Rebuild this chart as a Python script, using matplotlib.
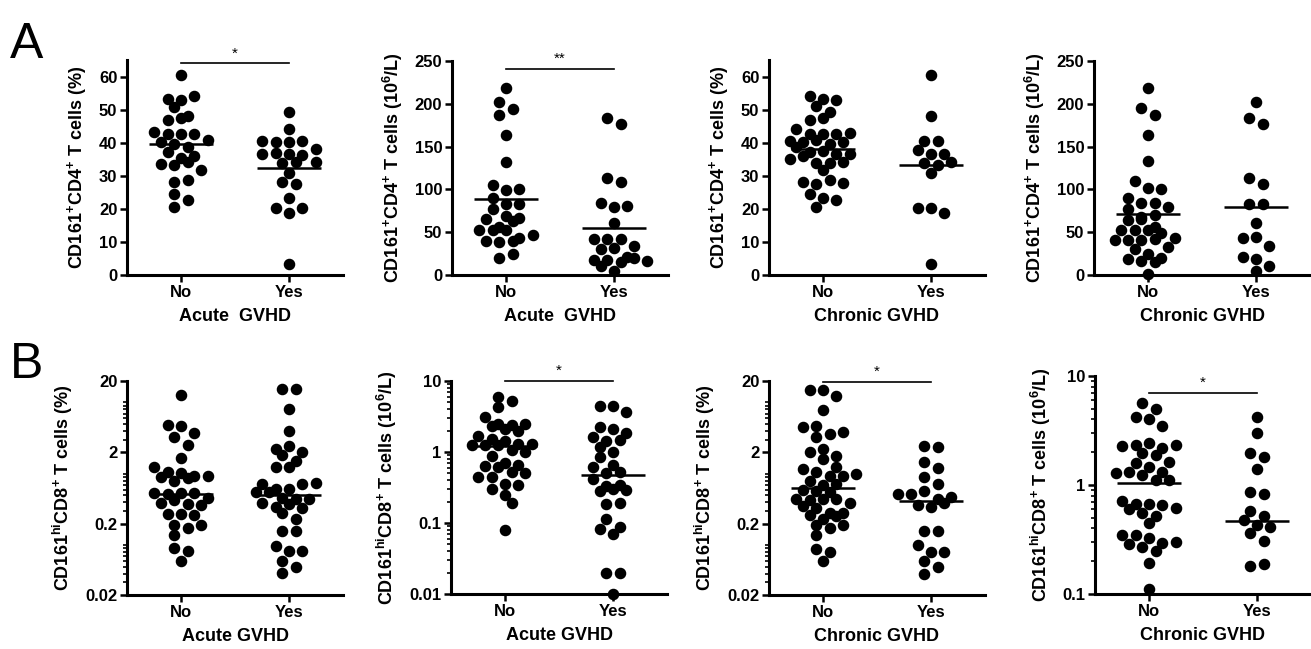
import numpy as np
import matplotlib
matplotlib.use('Agg')
import matplotlib.pyplot as plt
from matplotlib.ticker import FixedLocator, LogLocator, NullFormatter, FuncFormatter

plt.rcParams['font.family'] = ['Liberation Sans', 'DejaVu Sans']
plt.rcParams['font.weight'] = 'bold'
plt.rcParams['axes.labelweight'] = 'bold'
plt.rcParams['mathtext.fontset'] = 'custom'
plt.rcParams['mathtext.rm'] = 'Liberation Sans:bold'
plt.rcParams['mathtext.bf'] = 'Liberation Sans:bold'
plt.rcParams['mathtext.it'] = 'Liberation Sans:bold'

groups = ['No', 'Yes']

# A: CD161+CD4+ T cells
cd4_pct_acute_no = [60.6, 53.3, 52.8, 54.1, 50.9, 48.2, 47.0, 47.6, 43.2, 42.7, 42.5, 42.7, 40.1, 40.9,
                    39.5, 37.2, 38.7, 35.3, 35.9, 33.5, 33.2, 34.2, 31.6, 28.0, 28.6, 24.6, 22.8, 20.6]
cd4_pct_acute_yes = [49.2, 44.1, 40.5, 40.3, 40.3, 40.5, 38.0, 36.5, 37.0, 36.5, 36.3, 34.3, 34.0, 34.1,
                     30.9, 28.1, 27.6, 23.4, 20.4, 18.6, 20.4, 3.2]
cd4_abs_acute_no = [219, 202.5, 194, 187, 164, 132, 105, 99, 101, 90, 83, 77, 83, 69, 65, 56.5, 63, 67,
                    53, 52, 52.5, 43, 40, 38, 40, 47, 19.5, 24]
cd4_abs_acute_yes = [183, 176, 113, 109, 84, 79, 81, 61, 41.7, 41.7, 41.7, 34, 30, 31, 21, 18, 17.5, 15,
                     19.5, 16, 11, 5]
cd4_pct_chronic_no = [54, 53.3, 52.8, 51, 49.2, 47, 47.6, 44.2, 42.7, 42.7, 42.7, 42.9, 40.5, 40.2, 40.9,
                      39.7, 40.2, 38.7, 37.2, 37.5, 36.5, 36.5, 35.2, 35.9, 33.9, 33.9, 34.2, 31.7, 28.1,
                      27.6, 28.6, 27.9, 24.6, 23.4, 22.8, 20.6]
cd4_pct_chronic_yes = [60.6, 48.2, 40.5, 40.5, 37.7, 36.7, 36.5, 33.9, 33.2, 34.3, 30.9, 20.4, 20.4, 18.6, 3.2]
cd4_abs_chronic_no = [219, 194.7, 187, 164, 133, 110, 102, 100, 89.6, 83.7, 84.5, 77, 79.8, 68, 64, 65, 70,
                      52.6, 52.6, 56.5, 52.6, 48.7, 42.8, 40.9, 40.9, 40.9, 41.7, 32.3, 30, 24.5, 18.3,
                      16.7, 19.5, 15.6, 1.2]
cd4_abs_chronic_yes = [202.5, 183, 176, 113, 106, 83, 83, 61, 43, 44, 34, 21.4, 19, 11, 5]

# B: CD161hiCD8+ T cells
cd8_pct_acute_no = [12.7, 4.83, 4.68, 3.69, 3.32, 2.56, 1.65, 1.23, 1.07, 1.02, 0.942, 0.912, 0.801, 0.864,
                    0.932, 0.532, 0.521, 0.532, 0.532, 0.453, 0.386, 0.43, 0.378, 0.366, 0.270, 0.270,
                    0.264, 0.191, 0.172, 0.191, 0.139, 0.090, 0.0828, 0.0605]
cd8_pct_acute_yes = [15.3, 15.3, 8.02, 3.98, 2.25, 2.46, 2.04, 1.82, 1.51, 1.26, 1.26, 0.712, 0.606, 0.606,
                     0.712, 0.735, 0.562, 0.547, 0.453, 0.439, 0.439, 0.386, 0.346, 0.285, 0.378, 0.328,
                     0.230, 0.158, 0.158, 0.0973, 0.0828, 0.0828, 0.0605, 0.0499, 0.0403]
cd8_abs_acute_no = [6.01, 5.28, 4.26, 3.15, 2.48, 2.32, 2.40, 2.48, 2.08, 1.98, 1.68, 1.51, 1.44, 1.30, 1.26,
                    1.30, 1.26, 1.26, 1.07, 1.01, 0.878, 0.708, 0.635, 0.621, 0.656, 0.528, 0.512, 0.449,
                    0.449, 0.350, 0.343, 0.298, 0.248, 0.189, 0.080]
cd8_abs_acute_yes = [4.44, 4.44, 3.70, 2.27, 2.08, 1.61, 1.83, 1.44, 1.48, 1.16, 1.01, 0.86, 0.621, 0.656,
                     0.512, 0.528, 0.412, 0.332, 0.285, 0.298, 0.343, 0.292, 0.185, 0.189, 0.113, 0.0888,
                     0.0815, 0.070, 0.020, 0.020, 0.010]
cd8_pct_chronic_no = [14.96, 14.96, 12.33, 7.84, 4.58, 4.68, 3.61, 3.25, 3.90, 2.04, 2.25, 1.60, 1.78, 1.26,
                      1.16, 1.07, 0.932, 0.932, 0.993, 0.801, 0.697, 0.719, 0.593, 0.581, 0.547, 0.439,
                      0.43, 0.439, 0.439, 0.386, 0.354, 0.328, 0.285, 0.279, 0.264, 0.230, 0.256, 0.191,
                      0.172, 0.191, 0.139, 0.0893, 0.0813, 0.0605]
cd8_pct_chronic_yes = [2.46, 2.40, 1.48, 1.19, 0.893, 0.719, 0.521, 0.521, 0.581, 0.439, 0.478, 0.366, 0.339,
                       0.386, 0.158, 0.158, 0.0994, 0.080, 0.080, 0.0605, 0.0489, 0.0394]
cd8_abs_chronic_no = [5.61, 4.94, 4.18, 4.00, 3.48, 2.28, 2.33, 2.41, 2.17, 2.33, 1.98, 1.88, 1.60, 1.64, 1.45,
                      1.33, 1.28, 1.31, 1.24, 1.11, 1.11, 0.718, 0.670, 0.670, 0.656, 0.611, 0.598, 0.550,
                      0.520, 0.451, 0.348, 0.348, 0.324, 0.296, 0.302, 0.287, 0.272, 0.250, 0.191, 0.110]
cd8_abs_chronic_yes = [4.18, 3.02, 1.98, 1.79, 1.39, 0.869, 0.827, 0.582, 0.520, 0.477, 0.430, 0.409, 0.360,
                       0.309, 0.181, 0.187]

# median lines
medians = [(39.5, 32.5), (88.4, 55.3), (38.0, 33.2), (71.0, 79.0),
           (0.524, 0.51), (1.22, 0.474), (0.626, 0.411), (1.04, 0.471)]
signif = ['*', '**', '', '', '', '*', '*', '*']

ylab_cd4_pct = 'CD161$^{+}$CD4$^{+}$ T cells (%)'
ylab_cd4_abs = 'CD161$^{+}$CD4$^{+}$ T cells (10$^{6}$/L)'
ylab_cd8_pct = 'CD161$^{hi}$CD8$^{+}$ T cells (%)'
ylab_cd8_abs = 'CD161$^{hi}$CD8$^{+}$ T cells (10$^{6}$/L)'

panels = [
    (cd4_pct_acute_no, cd4_pct_acute_yes, ylab_cd4_pct, 'Acute  GVHD'),
    (cd4_abs_acute_no, cd4_abs_acute_yes, ylab_cd4_abs, 'Acute  GVHD'),
    (cd4_pct_chronic_no, cd4_pct_chronic_yes, ylab_cd4_pct, 'Chronic GVHD'),
    (cd4_abs_chronic_no, cd4_abs_chronic_yes, ylab_cd4_abs, 'Chronic GVHD'),
    (cd8_pct_acute_no, cd8_pct_acute_yes, ylab_cd8_pct, 'Acute GVHD'),
    (cd8_abs_acute_no, cd8_abs_acute_yes, ylab_cd8_abs, 'Acute GVHD'),
    (cd8_pct_chronic_no, cd8_pct_chronic_yes, ylab_cd8_pct, 'Chronic GVHD'),
    (cd8_abs_chronic_no, cd8_abs_chronic_yes, ylab_cd8_abs, 'Chronic GVHD'),
]

# layout: (left px, top px, bottom px, ylim, yticks, log, sig bar y)
W, H = 1311, 649
layout = [
    (127, 60, 275, (0, 65), [0, 10, 20, 30, 40, 50, 60], False, 64.0),
    (452, 61, 275, (0, 250), [0, 50, 100, 150, 200, 250], False, 241),
    (769, 60, 275, (0, 65), [0, 10, 20, 30, 40, 50, 60], False, None),
    (1094, 61, 275, (0, 250), [0, 50, 100, 150, 200, 250], False, None),
    (127, 381, 595, (0.02, 20), [0.02, 0.2, 2, 20], True, None),
    (451, 381, 594, (0.01, 10), [0.01, 0.1, 1, 10], True, 10.0),
    (769, 381, 595, (0.02, 20), [0.02, 0.2, 2, 20], True, 19.5),
    (1095, 376, 594, (0.1, 10), [0.1, 1, 10], True, 7.0),
]


def scatter_rows(ax, xc, vals, row_h=9.0, gap=13.3, max_row=5, diam=10.5):
    # prism-like column scatter: group points into rows, spread each row evenly,
    # shifting a row by half a column when that avoids the dots above it
    vals = np.asarray(vals, dtype=float)
    pts = ax.transData.transform(np.column_stack([np.full(len(vals), xc), vals]))
    ys = pts[:, 1]
    rows, cur, start = [], [], None
    for i in np.argsort(-ys, kind='stable'):
        if cur and (start - ys[i] > row_h or len(cur) >= max_row):
            rows.append(cur)
            cur = []
        if not cur:
            start = ys[i]
        cur.append(i)
    rows.append(cur)
    off = np.zeros(len(vals))
    placed = []
    for r in rows:
        r = sorted(r)
        base = [(j - (len(r) - 1) / 2) * gap for j in range(len(r))]
        best, best_cost = 0.0, None
        for shift in [0.0, gap / 2, -gap / 2]:
            cost = 0.0
            for b, i in zip(base, r):
                for px, py in placed:
                    d = np.hypot(b + shift - px, ys[i] - py)
                    cost += max(0.0, diam - d)
            cost += 0.01 * abs(shift)
            if best_cost is None or cost < best_cost:
                best, best_cost = shift, cost
        for b, i in zip(base, r):
            off[i] = b + best
            placed.append((off[i], ys[i]))
    unit = ax.transData.transform([(xc + 1, vals[0])])[0, 0] - pts[0, 0]
    return xc + off / unit


fig = plt.figure(figsize=(W / 100, H / 100), dpi=100)

for k, (no, yes, ylab, xlab) in enumerate(panels):
    left, top, bottom, ylim, yticks, logy, bar_y = layout[k]
    ax = fig.add_axes([left / W, (H - bottom) / H, 216 / W, (bottom - top) / H])
    if logy:
        ax.set_yscale('log')
    ax.set_xlim(0.5, 2.5)
    ax.set_ylim(*ylim)

    for xc, vals, med in zip([1, 2], [no, yes], medians[k]):
        xs = scatter_rows(ax, xc, vals)
        ax.plot(xs, vals, 'o', color='black', ms=7.3, mec='black', clip_on=False, zorder=3)
        ax.hlines(med, xc - 0.3, xc + 0.3, color='black', lw=1.8, zorder=4)

    if signif[k]:
        ax.plot([1, 2], [bar_y, bar_y], color='black', lw=1.2, clip_on=False)
        ax.annotate(signif[k], (1.5, bar_y), xytext=(0, 2), textcoords='offset points',
                    ha='center', va='bottom', fontsize=11, fontweight='normal', annotation_clip=False)

    for s in ['top', 'right']:
        ax.spines[s].set_visible(False)
    for s in ['left', 'bottom']:
        ax.spines[s].set_linewidth(2.2)

    ax.set_xticks([1, 2])
    ax.set_xticklabels(groups)
    ax.yaxis.set_major_locator(FixedLocator(yticks))
    ax.yaxis.set_major_formatter(FuncFormatter(lambda v, p: f'{v:g}'))
    if logy:
        ax.yaxis.set_minor_locator(LogLocator(base=10, subs=np.arange(1, 10)))
        ax.yaxis.set_minor_formatter(NullFormatter())
        ax.tick_params(axis='y', which='minor', direction='out', length=3, width=1.2)
    ax.tick_params(which='major', direction='out', length=5, width=1.8, labelsize=12, pad=2)

    ax.set_ylabel(ylab, fontsize=13, labelpad=7)
    ax.set_xlabel(xlab, fontsize=13, labelpad=6)

fig.text(10 / W, (H - 58) / H, 'A', fontsize=36, fontweight='normal', va='baseline')
fig.text(10 / W, (H - 378) / H, 'B', fontsize=36, fontweight='normal', va='baseline')

plt.savefig('out.png', dpi=100)
